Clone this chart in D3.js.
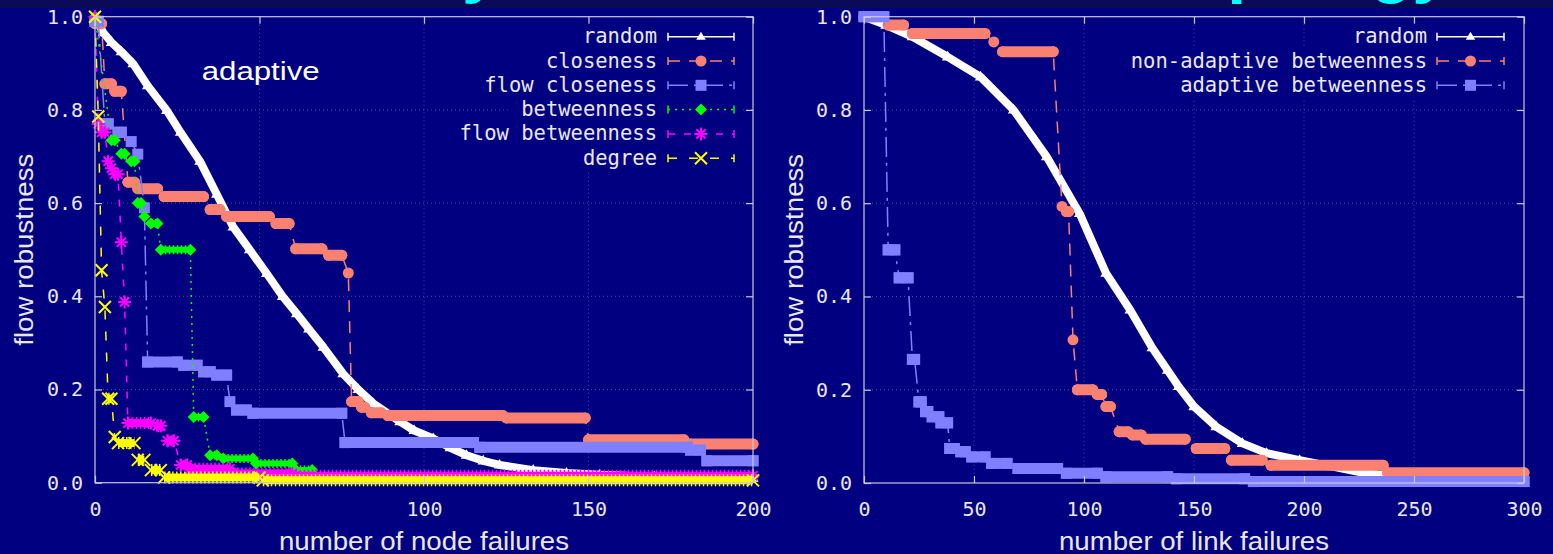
<!DOCTYPE html>
<html>
<head>
<meta charset="utf-8">
<script src="https://cdn.jsdelivr.net/npm/d3@7"></script>
<style>
  html, body { margin: 0; padding: 0; background: #000080; overflow: hidden; }
  svg { display: block; }
</style>
</head>
<body>
<svg id="chart"></svg>
<script>
// ---------- data ----------
const yTicks = [0, 0.2, 0.4, 0.6, 0.8, 1.0];
const nodeTicks = [0, 50, 100, 150, 200];
const linkTicks = [0, 50, 100, 150, 200, 250, 300];

// random failures: [failures, flow robustness]
const nodeRandom = [[0,1.0],[2.5,0.966],[5,0.945],[8,0.925],[11.6,0.899],[16,0.852],[21.8,0.799],[26,0.752],[31.9,0.69],[37,0.619],[42,0.549],[47,0.5],[52.2,0.449],[57,0.40],[61.3,0.363],[65,0.33],[69.4,0.291],[75.4,0.234],[80,0.2],[84.6,0.17],[92.7,0.131],[97,0.112],[102.8,0.095],[108,0.075],[112.9,0.059],[118,0.047],[123,0.038],[133.2,0.027],[143.3,0.021],[153.4,0.017],[170,0.013],[185,0.011],[200,0.01]];

// targeted strategies, plateaus: [first failure, last failure, flow robustness]
const nodeCloseness = [[0,2,0.985],[3,5,0.856],[6,8,0.84],[10,12,0.645],[13,19,0.631],[21,33,0.614],[35,38,0.586],[40,53,0.571],[55,59,0.556],[61,69,0.502],[71,75,0.488],[77,77,0.45],[78,80,0.174],[81,82,0.162],[84,87,0.15],[89,124,0.144],[125,149,0.139],[150,179,0.092],[181,200,0.083]];
const nodeFlowCloseness = [[0,1,0.99],[3,4,0.77],[7,8,0.752],[11,11,0.732],[13,13,0.705],[15,15,0.59],[16,25,0.259],[27,31,0.252],[33,35,0.238],[37,40,0.231],[41,41,0.174],[43,46,0.156],[48,75,0.149],[76,115,0.086],[117,180,0.076],[181,184,0.07],[186,200,0.047]];
const nodeBetweenness = [[0,0,1.0],[5,6,0.735],[8,9,0.706],[11,12,0.69],[13,14,0.60],[15,15,0.571],[17,19,0.556],[20,29,0.50],[30,33,0.141],[35,37,0.059],[39,48,0.052],[49,60,0.041],[61,66,0.027],[67,200,0.013]];
const nodeFlowBetweenness = [[0,0,1.0],[1,1,0.77],[2,3,0.752],[4,4,0.69],[5,5,0.675],[6,7,0.662],[8,8,0.516],[9,9,0.388],[10,17,0.128],[19,20,0.122],[22,24,0.09],[26,28,0.038],[29,41,0.03],[42,60,0.02],[61,200,0.015]];
const nodeDegree = [[0,0,1.0],[1,1,0.786],[2,2,0.456],[3,3,0.377],[4,5,0.18],[6,6,0.098],[7,12,0.085],[13,15,0.049],[17,20,0.027],[21,50,0.011],[51,200,0.005]];

const linkRandom = [[0,1.0],[10,0.982],[22,0.957],[38,0.914],[53,0.871],[68,0.80],[83,0.70],[98,0.578],[110,0.45],[121,0.371],[131,0.29],[138,0.242],[143,0.207],[150,0.164],[160,0.121],[172,0.085],[183,0.064],[198,0.049],[213,0.035],[228,0.021],[236,0.017],[250,0.012],[275,0.008],[300,0.006]];
const linkNonAdaptive = [[0,6,1.0],[11,18,0.982],[22,55,0.964],[59,59,0.946],[63,86,0.925],[90,90,0.593],[92,93,0.582],[95,95,0.307],[97,104,0.20],[106,108,0.19],[110,112,0.164],[116,120,0.11],[122,126,0.103],[128,146,0.094],[151,164,0.074],[167,181,0.049],[185,236,0.038],[238,300,0.022]];
const linkAdaptive = [[0,9,1.0],[11,14,0.5],[16,20,0.44],[22,23,0.265],[25,26,0.174],[28,29,0.153],[31,34,0.142],[35,38,0.129],[39,41,0.074],[44,46,0.067],[49,55,0.056],[58,65,0.042],[70,88,0.031],[92,106,0.021],[110,138,0.0135],[142,173,0.009],[177,300,0.003]];

// ---------- styles ----------
const styles = {
    random:    { color: '#ffffff', marker: 'triangle', dash: null },
    salmon:    { color: '#fa8072', marker: 'circle',   dash: '12,9' },
    lavender:  { color: '#8080ff', marker: 'square',   dash: '20,6,3,6' },
    green:     { color: '#00ff00', marker: 'diamond',  dash: '2,5' },
    magenta:   { color: '#ff00ff', marker: 'asterisk', dash: '7,9' },
    yellow:    { color: '#ffff00', marker: 'cross',    dash: '9,12' }
};

const panels = [
    {
        left: 95, right: 753, top: 16.7, bottom: 482.7, xMax: 200, xTicks: nodeTicks,
        xLabel: 'number of node failures', xLabelLen: 290, yLabelX: 33,
        keyTextX: 657, keyX0: 668, keyX1: 734, keyY0: 36.7, keyDy: 24.3,
        series: [
            { name: 'random', data: nodeRandom, curve: true, style: styles.random },
            { name: 'closeness', data: nodeCloseness, style: styles.salmon },
            { name: 'flow closeness', data: nodeFlowCloseness, style: styles.lavender },
            { name: 'betweenness', data: nodeBetweenness, style: styles.green },
            { name: 'flow betweenness', data: nodeFlowBetweenness, style: styles.magenta },
            { name: 'degree', data: nodeDegree, style: styles.yellow }
        ]
    },
    {
        left: 864, right: 1524, top: 16.7, bottom: 483, xMax: 300, xTicks: linkTicks,
        xLabel: 'number of link failures', xLabelLen: 270, yLabelX: 803,
        keyTextX: 1427, keyX0: 1437, keyX1: 1504, keyY0: 36.7, keyDy: 24.3,
        series: [
            { name: 'random', data: linkRandom, curve: true, style: styles.random },
            { name: 'non-adaptive betweenness', data: linkNonAdaptive, style: styles.salmon },
            { name: 'adaptive betweenness', data: linkAdaptive, style: styles.lavender }
        ]
    }
];

const W = 1553, H = 554;
const MONO = "'DejaVu Sans Mono', monospace";
const SANS = "'Liberation Sans', Arial, sans-serif";
const FRAME = '#c8c8dc';
const TEXT = '#e8e8ee';

const svg = d3.select('#chart').attr('width', W).attr('height', H);
svg.append('rect').attr('width', W).attr('height', H).attr('fill', '#000080');

// marker shapes (s = half size)
function markerPath(type, s) {
    const d = s * 0.707;
    switch (type) {
        case 'circle':   return d3.symbol(d3.symbolCircle, Math.PI * s * s)();
        case 'square':   return `M${-s},${-s}H${s}V${s}H${-s}Z`;
        case 'triangle': return `M0,${-s}L${s * 0.95},${s * 0.6}L${-s * 0.95},${s * 0.6}Z`;
        case 'diamond':  return `M0,${-s}L${s},0L0,${s}L${-s},0Z`;
        case 'asterisk': return `M${-s},0H${s}M0,${-s}V${s}M${-d},${-d}L${d},${d}M${-d},${d}L${d},${-d}`;
        case 'cross':    return `M${-s},${-s}L${s},${s}M${-s},${s}L${s},${-s}`;
    }
}
const filled = t => ['circle', 'square', 'triangle', 'diamond'].includes(t);
const markerSize = { circle: 5.5, square: 5.5, triangle: 6, diamond: 6, asterisk: 6.5, cross: 6 };

function drawMarker(g, type, color, x, y, s) {
    const p = g.append('path')
        .attr('d', markerPath(type, s || markerSize[type]))
        .attr('transform', `translate(${x},${y})`);
    if (filled(type)) p.attr('fill', color);
    else p.attr('fill', 'none').attr('stroke', color).attr('stroke-width', 2);
}

function drawPanel(p) {
    const x = d3.scaleLinear().domain([0, p.xMax]).range([p.left, p.right]);
    const y = d3.scaleLinear().domain([0, 1]).range([p.bottom, p.top]);
    const g = svg.append('g');

    // grid
    const grid = g.append('g').attr('stroke', '#9090c8').attr('stroke-opacity', 0.5)
        .attr('stroke-dasharray', '1,3');
    grid.selectAll('.gx').data(p.xTicks.slice(1, -1)).join('line')
        .attr('x1', d => x(d)).attr('x2', d => x(d)).attr('y1', p.top).attr('y2', p.bottom);
    grid.selectAll('.gy').data(yTicks.slice(1, -1)).join('line')
        .attr('x1', p.left).attr('x2', p.right).attr('y1', d => y(d)).attr('y2', d => y(d));

    // series
    p.series.forEach(s => {
        const st = s.style;
        const sg = g.append('g');
        if (s.curve) {
            sg.append('path')
                .attr('d', d3.line().x(d => x(d[0])).y(d => y(d[1]))(s.data))
                .attr('fill', 'none').attr('stroke', st.color).attr('stroke-width', 8)
                .attr('stroke-linejoin', 'round');
            s.data.forEach(d => drawMarker(sg, st.marker, st.color, x(d[0]), y(d[1])));
            return;
        }
        // thin connecting line
        const pts = [];
        s.data.forEach(d => { pts.push([d[0], d[2]]); pts.push([d[1], d[2]]); });
        sg.append('path')
            .attr('d', d3.line().x(d => x(d[0])).y(d => y(d[1]))(pts))
            .attr('fill', 'none').attr('stroke', st.color).attr('stroke-width', 1.5)
            .attr('stroke-dasharray', st.dash);
        // plateaus
        const m = st.marker;
        s.data.forEach(d => {
            const x0 = x(d[0]), x1 = x(d[1]), yy = y(d[2]);
            if (x1 > x0) {
                if (m === 'circle' || m === 'square') {
                    sg.append('line').attr('x1', x0).attr('x2', x1).attr('y1', yy).attr('y2', yy)
                        .attr('stroke', st.color).attr('stroke-width', 11)
                        .attr('stroke-linecap', m === 'circle' ? 'round' : 'square');
                } else {
                    const core = m === 'diamond' ? 6 : 8;
                    const spike = m === 'diamond' ? 9 : 12;
                    sg.append('line').attr('x1', x0).attr('x2', x1).attr('y1', yy).attr('y2', yy)
                        .attr('stroke', st.color).attr('stroke-width', core);
                    sg.append('line').attr('x1', x0).attr('x2', x1).attr('y1', yy).attr('y2', yy)
                        .attr('stroke', st.color).attr('stroke-width', spike)
                        .attr('stroke-dasharray', '1.5,2.5');
                }
            }
            drawMarker(sg, m, st.color, x0, yy);
            if (x1 > x0) drawMarker(sg, m, st.color, x1, yy);
        });
    });

    // border and ticks (mirrored, inward)
    g.append('rect').attr('x', p.left).attr('y', p.top)
        .attr('width', p.right - p.left).attr('height', p.bottom - p.top)
        .attr('fill', 'none').attr('stroke', FRAME).attr('stroke-width', 1.2);

    const axes = [
        [d3.axisBottom(x).tickValues(p.xTicks).tickFormat(d3.format('d')).tickPadding(19), `translate(0,${p.bottom})`],
        [d3.axisTop(x).tickValues(p.xTicks).tickFormat(''), `translate(0,${p.top})`],
        [d3.axisLeft(y).tickValues(yTicks).tickFormat(d3.format('.1f')).tickPadding(12), `translate(${p.left},0)`],
        [d3.axisRight(y).tickValues(yTicks).tickFormat(''), `translate(${p.right},0)`]
    ];
    axes.forEach(([ax, tr]) => {
        const ag = g.append('g').attr('transform', tr)
            .call(ax.tickSizeInner(-7).tickSizeOuter(0));
        ag.select('.domain').remove();
        ag.selectAll('line').attr('stroke', FRAME).attr('stroke-width', 1.2);
        ag.selectAll('text').attr('fill', TEXT).attr('font-family', MONO).attr('font-size', 20);
    });

    // axis titles
    g.append('text')
        .attr('x', (p.left + p.right) / 2).attr('y', 550)
        .attr('text-anchor', 'middle').attr('font-family', SANS).attr('font-size', 25)
        .attr('fill', TEXT).attr('textLength', p.xLabelLen).attr('lengthAdjust', 'spacingAndGlyphs')
        .text(p.xLabel);
    g.append('text')
        .attr('transform', `translate(${p.yLabelX},${(p.top + p.bottom) / 2}) rotate(-90)`)
        .attr('text-anchor', 'middle').attr('font-family', SANS).attr('font-size', 25)
        .attr('fill', TEXT).attr('textLength', 192).attr('lengthAdjust', 'spacingAndGlyphs')
        .text('flow robustness');

    // key
    const key = g.append('g');
    p.series.forEach((s, i) => {
        const cy = p.keyY0 + i * p.keyDy;
        const st = s.style;
        const row = key.append('g');
        const bg = row.append('rect').attr('fill', '#000080');
        const t = row.append('text')
            .attr('x', p.keyTextX).attr('y', cy + 6.5)
            .attr('text-anchor', 'end').attr('font-family', MONO).attr('font-size', 20.5)
            .attr('fill', TEXT).text(s.name);
        const tw = t.node().getComputedTextLength();
        bg.attr('x', p.keyTextX - tw - 10).attr('y', cy - 12)
            .attr('width', p.keyX1 + 6 - (p.keyTextX - tw - 10)).attr('height', p.keyDy);
        row.append('line').attr('x1', p.keyX0).attr('x2', p.keyX1).attr('y1', cy).attr('y2', cy)
            .attr('stroke', st.color).attr('stroke-width', 1.5)
            .attr('stroke-dasharray', st.dash);
        [p.keyX0, p.keyX1].forEach(ex => row.append('line')
            .attr('x1', ex).attr('x2', ex).attr('y1', cy - 4).attr('y2', cy + 4)
            .attr('stroke', st.color).attr('stroke-width', 1.5));
        drawMarker(row, st.marker, st.color, (p.keyX0 + p.keyX1) / 2, cy,
            st.marker === 'triangle' ? 5 : markerSize[st.marker]);
    });
    return g;
}

panels.forEach(drawPanel);

// "adaptive" note in the left panel
svg.append('text')
    .attr('x', 201.7).attr('y', 80)
    .attr('font-family', SANS).attr('font-size', 26).attr('fill', '#ffffff')
    .attr('textLength', 118).attr('lengthAdjust', 'spacingAndGlyphs')
    .text('adaptive');

// slide title bar, cut off at the top edge
svg.append('rect').attr('width', W).attr('height', 8).attr('fill', '#0a0a58');
const title = svg.append('g').attr('font-family', SANS).attr('font-weight', 'bold')
    .attr('font-size', 68).attr('fill', '#00ffff');
title.append('text').attr('x', 462).attr('y', -10).text('y');
title.append('text').attr('x', 1163).attr('y', -10).text('topology');
</script>
</body>
</html>
